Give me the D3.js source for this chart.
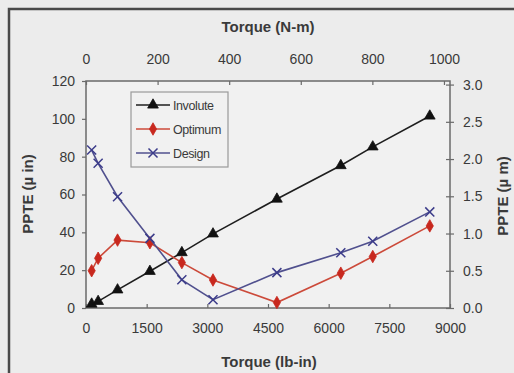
<!DOCTYPE html>
<html>
<head>
<meta charset="utf-8">
<script src="https://cdn.jsdelivr.net/npm/d3@7"></script>
<style>
  html, body { margin: 0; padding: 0; background: #ececec; }
  svg { display: block; }
  text { font-family: "Liberation Sans", Arial, sans-serif; fill: #3a3a3a; }
</style>
</head>
<body>
<svg id="chart" width="514" height="373"></svg>
<script>
// Torque in lb-in for each measurement
const torqueLbIn = [140, 300, 780, 1580, 2370, 3140, 4720, 6300, 7090, 8500];
// PPTE values (micro-inch)
const involute = [2.1, 3.5, 9.6, 19.4, 29.3, 39.2, 57.6, 75.3, 85.2, 101.5];
const optimum  = [19.7, 26.3, 35.9, 34.5, 24.0, 14.8, 2.9, 18.4, 27.2, 43.4];
const design   = [83.5, 76.5, 58.8, 36.8, 14.9, 4.4, 18.7, 29.2, 35.3, 50.8];

const seriesNames = ["Involute", "Optimum", "Design"];
const bottomTicks = [0, 1500, 3000, 4500, 6000, 7500, 9000];
const topTicks = [0, 200, 400, 600, 800, 1000];
const leftTicks = [0, 20, 40, 60, 80, 100, 120];
const rightTicks = [0, 0.5, 1.0, 1.5, 2.0, 2.5, 3.0];

const LBIN_TO_NM = 0.112985;
const MICROIN_TO_MICROM = 0.0254;

const svg = d3.select("#chart");
const m = { left: 86, right: 450, top: 81, bottom: 308 };

const x = d3.scaleLinear().domain([0, 9000]).range([m.left, m.right]);
const xTop = d3.scaleLinear().domain([0, 9000 * LBIN_TO_NM]).range([m.left, m.right]);
const y = d3.scaleLinear().domain([0, 120]).range([m.bottom, m.top]);
const yRight = d3.scaleLinear().domain([0, 120 * MICROIN_TO_MICROM]).range([m.bottom, m.top]);

// frame around the figure
svg.append("path")
  .attr("d", `M9,373 L9,9 L514,9`)
  .attr("fill", "none").attr("stroke", "#4a4a4a").attr("stroke-width", 2.5);

// plot area
svg.append("rect")
  .attr("x", m.left).attr("y", m.top)
  .attr("width", m.right - m.left).attr("height", m.bottom - m.top)
  .attr("fill", "#f1f1f1").attr("stroke", "#6a6a6a").attr("stroke-width", 1.5);

const axisStyle = g => {
  g.select(".domain").remove();
  g.selectAll(".tick line").attr("stroke", "#6a6a6a").attr("stroke-width", 1.2);
  g.selectAll(".tick text").attr("font-size", "14px").attr("fill", "#3a3a3a")
    .attr("font-family", "Liberation Sans, Arial, sans-serif");
};

const intFmt = d3.format("d");

svg.append("g").attr("transform", `translate(0,${m.bottom})`)
  .call(d3.axisBottom(x).tickValues(bottomTicks).tickFormat(intFmt)
    .tickSizeInner(-4).tickSizeOuter(0).tickPadding(15))
  .call(axisStyle);

svg.append("g").attr("transform", `translate(0,${m.top})`)
  .call(d3.axisTop(xTop).tickValues(topTicks).tickFormat(intFmt)
    .tickSizeInner(-4).tickSizeOuter(0).tickPadding(17))
  .call(axisStyle);

svg.append("g").attr("transform", `translate(${m.left},0)`)
  .call(d3.axisLeft(y).tickValues(leftTicks).tickFormat(intFmt)
    .tickSizeInner(4).tickSizeOuter(0).tickPadding(7))
  .call(axisStyle);

const rg = svg.append("g").attr("transform", `translate(${m.right},0)`)
  .call(d3.axisRight(yRight).tickValues(rightTicks).tickFormat(d3.format(".1f"))
    .tickSizeInner(4).tickSizeOuter(0).tickPadding(9))
  .call(axisStyle);
rg.selectAll(".tick line").attr("x1", -4);

// axis titles
svg.append("text").attr("x", 268).attr("y", 32).attr("text-anchor", "middle")
  .attr("font-size", "15px").attr("font-weight", "bold").text("Torque (N-m)");
svg.append("text").attr("x", 269).attr("y", 367).attr("text-anchor", "middle")
  .attr("font-size", "15px").attr("font-weight", "bold").text("Torque (lb-in)");
svg.append("text").attr("transform", "translate(33,194) rotate(-90)").attr("text-anchor", "middle")
  .attr("font-size", "15px").attr("font-weight", "bold").text("PPTE (µ in)");
svg.append("text").attr("transform", "translate(508,196) rotate(-90)").attr("text-anchor", "middle")
  .attr("font-size", "15px").attr("font-weight", "bold").text("PPTE (µ m)");

const series = [
  { name: seriesNames[0], values: involute, line: "#1e1e1e", mark: "#111", symbol: d3.symbolTriangle, size: 50, cross: false },
  { name: seriesNames[1], values: optimum, line: "#cc4a3a", mark: "#c8281e", symbol: d3.symbolDiamond, size: 45, cross: false },
  { name: seriesNames[2], values: design, line: "#50508e", mark: "#3c3c8a", symbol: d3.symbolX, size: 55, cross: true }
];

const line = d3.line().x(d => x(d[0])).y(d => y(d[1]));

series.forEach(s => {
  const pts = torqueLbIn.map((t, i) => [t, s.values[i]]);
  svg.append("path").datum(pts).attr("d", line)
    .attr("fill", "none").attr("stroke", s.line).attr("stroke-width", 1.6);
  svg.append("g").selectAll("path").data(pts).join("path")
    .attr("transform", d => `translate(${x(d[0])},${y(d[1])})`)
    .attr("d", d3.symbol(s.symbol, s.size))
    .attr("fill", s.cross ? "none" : s.mark)
    .attr("stroke", s.mark).attr("stroke-width", s.cross ? 1.5 : 0.8);
});

// legend
const lg = svg.append("g");
lg.append("rect").attr("x", 131).attr("y", 92).attr("width", 97).attr("height", 75)
  .attr("fill", "#f1f1f1").attr("stroke", "#9a9a9a").attr("stroke-width", 1.2);
series.forEach((s, i) => {
  const yy = 105 + i * 24;
  lg.append("line").attr("x1", 136).attr("x2", 170).attr("y1", yy).attr("y2", yy)
    .attr("stroke", s.line).attr("stroke-width", 1.6);
  lg.append("path").attr("transform", `translate(153,${yy})`)
    .attr("d", d3.symbol(s.symbol, s.size))
    .attr("fill", s.cross ? "none" : s.mark)
    .attr("stroke", s.mark).attr("stroke-width", s.cross ? 1.5 : 0.8);
  lg.append("text").attr("x", 173).attr("y", yy + 4.5)
    .attr("font-size", "12.5px").attr("letter-spacing", "-0.4px").text(s.name);
});
</script>
</body>
</html>
